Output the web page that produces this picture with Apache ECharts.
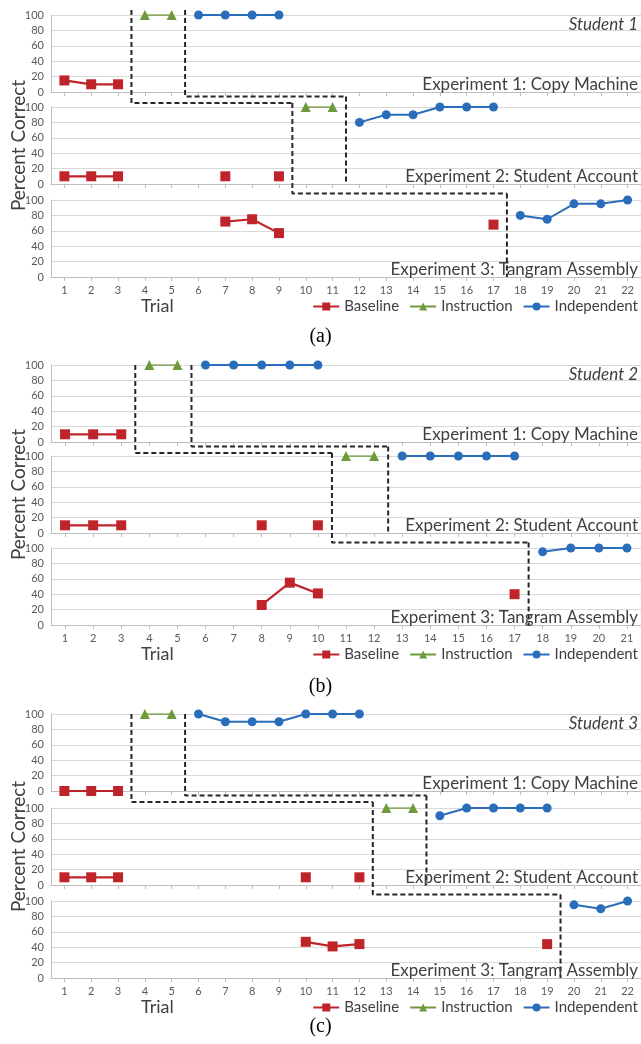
<!DOCTYPE html>
<html><head><meta charset="utf-8">
<script src="https://cdn.jsdelivr.net/npm/echarts@6/dist/echarts.min.js"></script>
<style>html,body{margin:0;padding:0;background:#fff}#c{width:641px;height:1044px}</style>
</head><body><div id="c"></div>
<script>
// ---------- tick labels ----------
const trialsA = ['1','2','3','4','5','6','7','8','9','10','11','12','13','14','15','16','17','18','19','20','21','22'];
const trialsB = ['1','2','3','4','5','6','7','8','9','10','11','12','13','14','15','16','17','18','19','20','21'];
const trialsC = ['1','2','3','4','5','6','7','8','9','10','11','12','13','14','15','16','17','18','19','20','21','22'];

const phaseNames = ['Baseline','Instruction','Independent'];
const experimentNames = ['Experiment 1: Copy Machine','Experiment 2: Student Account','Experiment 3: Tangram Assembly'];
const studentNames = ['Student 1','Student 2','Student 3'];
const panelLabels = ['(a)','(b)','(c)'];

// ---------- Student 1 : [trial, percent correct] ----------
const s1Exp1Baseline = [[1,15],[2,10],[3,10]];
const s1Exp1Instruction = [[4,100],[5,100]];
const s1Exp1Independent = [[6,100],[7,100],[8,100],[9,100]];
const s1Exp2Baseline = [[1,10],[2,10],[3,10],[7,10],[9,10]];
const s1Exp2Instruction = [[10,100],[11,100]];
const s1Exp2Independent = [[12,80],[13,90],[14,90],[15,100],[16,100],[17,100]];
const s1Exp3Baseline = [[7,72],[8,75],[9,57],[17,68]];
const s1Exp3Instruction = [];
const s1Exp3Independent = [[18,80],[19,75],[20,95],[21,95],[22,100]];
const s1BaselineEnd = [3,9,17];      // last baseline trial before phase change
const s1InstructionEnd = [5,11];     // last instruction trial before phase change

// ---------- Student 2 ----------
const s2Exp1Baseline = [[1,10],[2,10],[3,10]];
const s2Exp1Instruction = [[4,100],[5,100]];
const s2Exp1Independent = [[6,100],[7,100],[8,100],[9,100],[10,100]];
const s2Exp2Baseline = [[1,10],[2,10],[3,10],[8,10],[10,10]];
const s2Exp2Instruction = [[11,100],[12,100]];
const s2Exp2Independent = [[13,100],[14,100],[15,100],[16,100],[17,100]];
const s2Exp3Baseline = [[8,26],[9,55],[10,41],[17,40]];
const s2Exp3Instruction = [];
const s2Exp3Independent = [[18,95],[19,100],[20,100],[21,100]];
const s2BaselineEnd = [3,10,17];
const s2InstructionEnd = [5,12];

// ---------- Student 3 ----------
const s3Exp1Baseline = [[1,0],[2,0],[3,0]];
const s3Exp1Instruction = [[4,100],[5,100]];
const s3Exp1Independent = [[6,100],[7,90],[8,90],[9,90],[10,100],[11,100],[12,100]];
const s3Exp2Baseline = [[1,10],[2,10],[3,10],[10,10],[12,10]];
const s3Exp2Instruction = [[13,100],[14,100]];
const s3Exp2Independent = [[15,90],[16,100],[17,100],[18,100],[19,100]];
const s3Exp3Baseline = [[10,47],[11,41],[12,44],[19,44]];
const s3Exp3Instruction = [];
const s3Exp3Independent = [[20,95],[21,90],[22,100]];
const s3BaselineEnd = [3,12,19];
const s3InstructionEnd = [5,14];

// ---------- assemble ----------
const students = [
  {trials: trialsA, exps: [[s1Exp1Baseline,s1Exp1Instruction,s1Exp1Independent],[s1Exp2Baseline,s1Exp2Instruction,s1Exp2Independent],[s1Exp3Baseline,s1Exp3Instruction,s1Exp3Independent]], bEnd: s1BaselineEnd, iEnd: s1InstructionEnd},
  {trials: trialsB, exps: [[s2Exp1Baseline,s2Exp1Instruction,s2Exp1Independent],[s2Exp2Baseline,s2Exp2Instruction,s2Exp2Independent],[s2Exp3Baseline,s2Exp3Instruction,s2Exp3Independent]], bEnd: s2BaselineEnd, iEnd: s2InstructionEnd},
  {trials: trialsC, exps: [[s3Exp1Baseline,s3Exp1Instruction,s3Exp1Independent],[s3Exp2Baseline,s3Exp2Instruction,s3Exp2Independent],[s3Exp3Baseline,s3Exp3Instruction,s3Exp3Independent]], bEnd: s3BaselineEnd, iEnd: s3InstructionEnd}
];

// layout
const gridTops = [[15,107,200],[365,456,548],[714,808,901]];
const panelLabelY = [335,685,1025];
const gridH = 77;
const topExt = [5,0,0];
const offA = [11,9.5];
const offB = 4.5;
const FONT = 'Lato';
const styles = [
  {color:'#BF242B', symbol:'rect', size:10, width:2.2},
  {color:'#6F9A3C', symbol:'triangle', size:10, width:1.5},
  {color:'#2A6DBA', symbol:'circle', size:9, width:2}
];

function toFull(pairs, n) {
  const arr = new Array(n).fill(null);
  pairs.forEach(p => { arr[p[0]-1] = p[1]; });
  return arr;
}
const u = px => px * 100 / gridH;

const grid = [], xAxis = [], yAxis = [], series = [], title = [], legend = [], graphic = [];
students.forEach((st, s) => {
  const n = st.trials.length;
  const T = gridTops[s];
  const B = T.map(t => t + gridH);
  for (let k = 0; k < 3; k++) {
    const g = grid.length;
    grid.push({left: 51, right: 0, top: T[k], height: gridH, containLabel:false, outerBoundsMode:'none'});
    xAxis.push({
      type:'category', gridIndex:g, data: st.trials, boundaryGap:true,
      axisLine:{lineStyle:{color:'#bfbfbf'}},
      axisTick:{show:true, alignWithLabel:true, length:4, lineStyle:{color:'#bfbfbf'}},
      axisLabel:{show: k === 2, color:'#595959', fontSize:11, fontFamily:FONT, margin:8},
      splitLine:{show:false}
    });
    xAxis.push({type:'value', gridIndex:g, show:false, min:0.5, max:n+0.5});
    yAxis.push({
      type:'value', gridIndex:g, min:0, max:100, interval:20,
      axisLine:{show:true, lineStyle:{color:'#bfbfbf'}},
      axisTick:{show:false},
      axisLabel:{color:'#595959', fontSize:11, fontFamily:FONT, margin:7},
      splitLine:{lineStyle:{color:'#d9d9d9'}}
    });
    st.exps[k].forEach((pairs, p) => {
      if (!pairs.length) return;
      const sty = styles[p];
      series.push({
        type:'line', name: phaseNames[p], xAxisIndex: 2*g, yAxisIndex: g,
        data: toFull(pairs, n), connectNulls:false,
        symbol: sty.symbol, symbolSize: sty.size, showSymbol:true,
        itemStyle:{color: sty.color}, lineStyle:{color: sty.color, width: sty.width},
        z: 3, animation:false
      });
    });
    // phase change lines
    const dash = {color:'#262626', width:2, type:[5,3]};
    const a = st.bEnd.map(v => v + 0.5);
    const startA = k === 0 ? 100 + u(topExt[s]) : 100 + u(T[k] - (B[k-1] + offA[k-1]));
    const ptsA = k < 2 ? [[a[k], startA],[a[k], -u(offA[k])],[a[k+1], -u(offA[k])]] : [[a[k], startA],[a[k], 0]];
    series.push({type:'line', name:'phaseA', xAxisIndex:2*g+1, yAxisIndex:g, data:ptsA, symbol:'none', clip:false, lineStyle:dash, silent:true, animation:false, z:4});
    const b = st.iEnd.map(v => v + 0.5);
    if (k === 0) {
      series.push({type:'line', name:'phaseB', xAxisIndex:2*g+1, yAxisIndex:g, data:[[b[0], 100 + u(topExt[s])],[b[0], -u(offB)],[b[1], -u(offB)]], symbol:'none', clip:false, lineStyle:dash, silent:true, animation:false, z:4});
    } else if (k === 1) {
      series.push({type:'line', name:'phaseB', xAxisIndex:2*g+1, yAxisIndex:g, data:[[b[1], 100 + u(T[1] - (B[0] + offB))],[b[1], 0]], symbol:'none', clip:false, lineStyle:dash, silent:true, animation:false, z:4});
    }
    title.push({text: experimentNames[k], right: 3, top: B[k] - 16, padding:0,
      textStyle:{fontSize:17, fontWeight:'normal', color:'#404040', fontFamily:FONT}});
  }
  title.push({text: studentNames[s], right: 3, top: T[0] + 1, padding:0,
    textStyle:{fontSize:17, fontWeight:'normal', fontStyle:'italic', color:'#404040', fontFamily:FONT}});
  title.push({text: 'Trial', left: 141, top: B[2] + 20, padding:0,
    textStyle:{fontSize:18, fontWeight:'normal', color:'#404040', fontFamily:FONT}});
  title.push({text: panelLabels[s], left: 'center', top: panelLabelY[s] - 8, padding:0,
    textStyle:{fontSize:20, fontWeight:'normal', color:'#000', fontFamily:'Liberation Serif'}});
  legend.push({data: phaseNames, right: 3, top: B[2] + 22, padding:0, itemWidth: 26, itemHeight: 10, itemGap: 10,
    textStyle:{fontSize:15, color:'#404040', fontFamily:FONT}});
  graphic.push({type:'text', x: 19, y: T[1] + gridH/2, rotation: Math.PI/2, silent:true,
    style:{text:'Percent Correct', fontSize:19, fill:'#404040', fontFamily:FONT, align:'center', verticalAlign:'middle'}});
});

const chart = echarts.init(document.getElementById('c'), null, {renderer:'canvas'});
chart.setOption({animation:false, backgroundColor:'#fff', grid, xAxis, yAxis, series, title, legend, graphic});
</script></body></html>
